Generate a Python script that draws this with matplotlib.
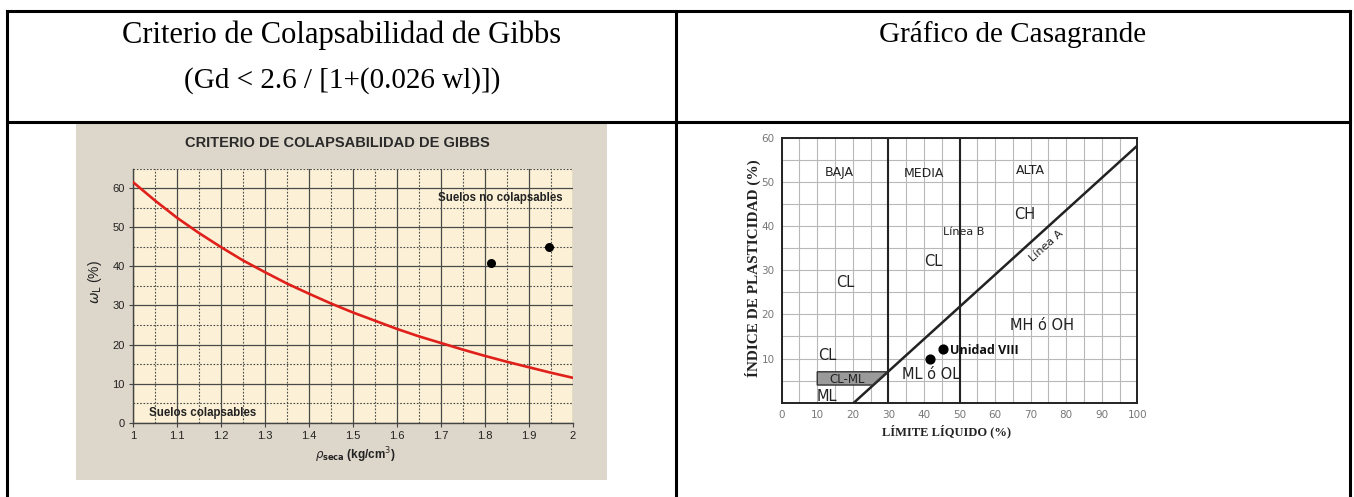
import matplotlib.pyplot as plt
from matplotlib.lines import Line2D
from matplotlib.patches import Polygon

W, H = 1354, 497

# Gibbs collapsibility chart
gibbs_density = [1.00, 1.05, 1.10, 1.15, 1.20, 1.25, 1.30, 1.35, 1.40, 1.45, 1.50,
                 1.55, 1.60, 1.65, 1.70, 1.75, 1.80, 1.85, 1.90, 1.95, 2.00]
gibbs_wl = [61.5, 56.8, 52.4, 48.5, 44.9, 41.5, 38.5, 35.6, 33.0, 30.5, 28.2,
            26.1, 24.0, 22.1, 20.4, 18.7, 17.1, 15.6, 14.2, 12.8, 11.5]
sample_density = [1.815, 1.945]
sample_wl = [40.8, 45.0]
gibbs_xticks = [1.0, 1.1, 1.2, 1.3, 1.4, 1.5, 1.6, 1.7, 1.8, 1.9, 2.0]
gibbs_yticks = [0, 10, 20, 30, 40, 50, 60]

# Casagrande plasticity chart
line_a_ll = [20.3, 100]
line_a_pi = [0, 58.2]
line_b_ll = [30, 50]
clml_ll = [10, 10, 29.6, 25.5]
clml_pi = [4, 7, 7, 4]
unit_ll = [41.7, 45.3]
unit_pi = [10.0, 12.2]
casa_xticks = [0, 10, 20, 30, 40, 50, 60, 70, 80, 90, 100]
casa_yticks = [10, 20, 30, 40, 50, 60]

zone_labels = ["BAJA", "MEDIA", "ALTA", "CH", "CL", "CL", "MH ó OH", "CL", "ML", "ML ó OL"]
zone_x = [16.1, 40.0, 69.8, 68.4, 42.6, 18.0, 73.1, 12.9, 12.7, 42.0]
zone_y = [52.1, 52.0, 52.5, 42.6, 31.9, 27.2, 17.4, 10.8, 1.4, 6.4]
zone_size = [9, 9, 9, 10.5, 10.5, 10.5, 10.5, 10.5, 10.5, 10.5]


def px_box(x0, y0, x1, y1):
    return [x0 / W, 1 - y1 / H, (x1 - x0) / W, (y1 - y0) / H]


def fx(x):
    return x / W


def fy(y):
    return 1 - y / H


fig = plt.figure(figsize=(W / 100, H / 100), dpi=100)
fig.patch.set_facecolor("white")

# table frame
for y in [11, 122]:
    fig.add_artist(Line2D([fx(7), fx(1350)], [fy(y), fy(y)], color="black", lw=2.2))
for x in [7, 676, 1350]:
    fig.add_artist(Line2D([fx(x), fx(x)], [fy(11), fy(497)], color="black", lw=2.2))

serif = "Liberation Serif"
fig.text(fx(342), fy(35), "Criterio de Colapsabilidad de Gibbs", family=serif,
         fontsize=22, ha="center", va="center")
fig.text(fx(342), fy(81), "(Gd < 2.6 / [1+(0.026 wl)])", family=serif,
         fontsize=21, ha="center", va="center")
fig.text(fx(1013), fy(35), "Gráfico de Casagrande", family=serif,
         fontsize=21, ha="center", va="center")

# ---- Gibbs ----
bg = fig.add_axes(px_box(76, 123, 607, 480))
bg.set_facecolor("#ddd6ca")
bg.set_xticks([])
bg.set_yticks([])
for s in bg.spines.values():
    s.set_visible(False)

ax1 = fig.add_axes(px_box(133.3, 168.7, 572.7, 422.7))
ax1.set_facecolor("#fcf1d6")
ax1.set_xlim(1, 2)
ax1.set_ylim(0, 65)
ax1.set_xticks(gibbs_xticks)
ax1.set_xticklabels([f"{v:g}" for v in gibbs_xticks])
ax1.set_yticks(gibbs_yticks)
ax1.set_xticks([v + 0.05 for v in gibbs_xticks[:-1]], minor=True)
ax1.set_yticks([v + 5 for v in gibbs_yticks], minor=True)
ax1.grid(which="major", color="#4a4a4a", lw=0.9)
ax1.grid(which="minor", color="#4a4a4a", lw=0.8, ls=(0, (1.5, 1.5)))
ax1.tick_params(which="minor", length=0)
ax1.tick_params(which="major", length=3, color="#444", labelsize=8,
                labelcolor="#222", pad=3)
for lab in ax1.get_xticklabels() + ax1.get_yticklabels():
    lab.set_family("Liberation Sans")
for side in ["top", "right"]:
    ax1.spines[side].set_visible(False)
for side in ["left", "bottom"]:
    ax1.spines[side].set_color("#444")
    ax1.spines[side].set_linewidth(1.0)
ax1.set_axisbelow(True)

ax1.plot(gibbs_density, gibbs_wl, color="#e0201b", lw=1.9, zorder=3)
ax1.scatter(sample_density, sample_wl, s=30, color="black", zorder=4)
ax1.text(1.694, 57.6, "Suelos no colapsables", fontsize=8.3, fontweight="bold",
         family="Liberation Sans", color="#222", va="center", ha="left")
ax1.text(1.036, 2.6, "Suelos colapsables", fontsize=8.3, fontweight="bold",
         family="Liberation Sans", color="#222", va="center", ha="left")

fig.text(fx(337), fy(143), "CRITERIO DE COLAPSABILIDAD DE GIBBS", fontsize=10.5,
         fontweight="bold", family="Liberation Sans", color="#2a2a2a",
         ha="center", va="center")
fig.text(fx(355), fy(455), r"$\rho_{\mathbf{seca}}$ (kg/cm$^3$)", fontsize=8.5,
         fontweight="bold", family="Liberation Sans", color="#222",
         ha="center", va="center")
fig.text(fx(95), fy(282), r"$\omega_{\mathrm{L}}$ (%)", fontsize=10,
         family="Liberation Sans", color="#222", rotation=90,
         ha="center", va="center")

# ---- Casagrande ----
ax2 = fig.add_axes(px_box(781.7, 137.7, 1137.3, 402.7))
ax2.set_xlim(0, 100)
ax2.set_ylim(0, 60)
ax2.set_xticks(casa_xticks)
ax2.set_yticks(casa_yticks)
ax2.set_xticks(range(5, 100, 10), minor=True)
ax2.set_yticks(range(5, 60, 10), minor=True)
ax2.grid(which="both", color="#b8b8b8", lw=0.8)
ax2.tick_params(which="both", length=0)
ax2.tick_params(labelsize=7.5, labelcolor="#777", pad=5)
for lab in ax2.get_xticklabels() + ax2.get_yticklabels():
    lab.set_family("DejaVu Sans")
for s in ax2.spines.values():
    s.set_linewidth(1.4)
    s.set_color("#222")
ax2.set_axisbelow(True)

for x in line_b_ll:
    ax2.plot([x, x], [0, 60], color="#222", lw=1.5)
ax2.plot(line_a_ll, line_a_pi, color="#222", lw=1.8)
ax2.add_patch(Polygon(list(zip(clml_ll, clml_pi)), closed=True,
                      facecolor="#9a9a9a", edgecolor="#333", lw=1.0, zorder=2))
ax2.text(18.3, 5.3, "CL-ML", fontsize=8.5, color="#222", ha="center", va="center")
for lab, x, y, s in zip(zone_labels, zone_x, zone_y, zone_size):
    ax2.text(x, y, lab, fontsize=s, color="#222", ha="center", va="center",
             family="DejaVu Sans", clip_on=False)
ax2.text(51.1, 38.7, "Línea B", fontsize=8, color="#222", ha="center", va="center")
ax2.text(74.5, 35.4, "Línea A", fontsize=8, color="#222", ha="center",
         va="center", rotation=42)
ax2.scatter(unit_ll, unit_pi, s=40, color="black", zorder=4)
ax2.text(47.3, 11.8, "Unidad VIII", fontsize=9, fontweight="bold",
         family="Open Sans", color="#111", ha="left", va="center")

fig.text(fx(946.7), fy(431), "LÍMITE LÍQUIDO (%)", family=serif, fontweight="bold",
         fontsize=9, color="#222", ha="center", va="center")
fig.text(fx(753), fy(268), "ÍNDICE DE PLASTICIDAD (%)", family=serif,
         fontweight="bold", fontsize=11, color="#222", rotation=90,
         ha="center", va="center")

fig.savefig("out.png", dpi=100)
